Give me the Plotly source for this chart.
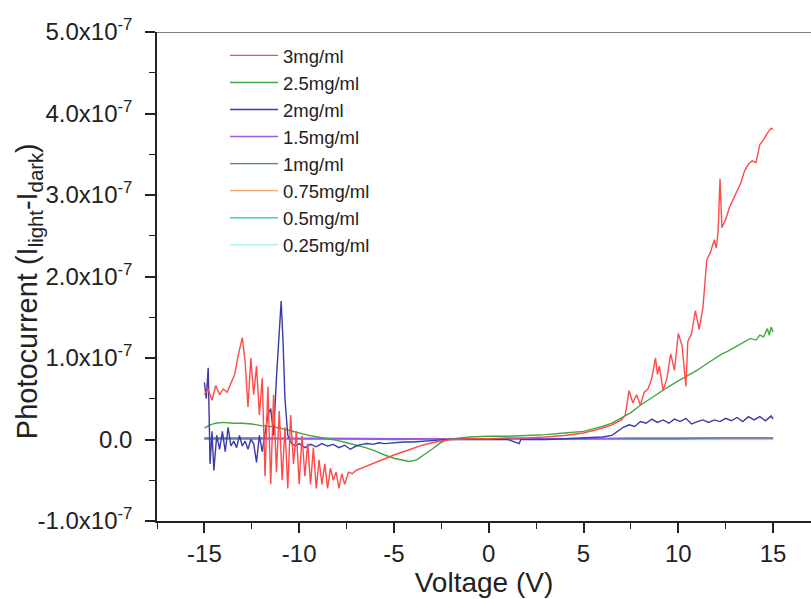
import plotly.graph_objects as go

# ---------------- data (current in units of 1e-7 A) ----------------
v_3 = [-15.0, -14.8, -14.6, -14.4, -14.2, -14.0, -13.8, -13.6, -13.4, -13.2, -13.0,
       -12.85, -12.7, -12.55, -12.4, -12.25, -12.1, -11.95, -11.8, -11.65, -11.5,
       -11.35, -11.2, -11.05, -10.9, -10.75, -10.6, -10.45, -10.3, -10.15, -10.0,
       -9.85, -9.7, -9.55, -9.4, -9.25, -9.1, -8.95, -8.8, -8.65, -8.5, -8.35, -8.2,
       -8.05, -7.9, -7.75, -7.6, -7.4, -7.2, -7.0, -6.5, -6.0, -5.5, -5.0, -4.5, -4.0,
       -3.5, -3.0, -2.5, -2.0, -1.0, 0.0, 1.0, 2.0, 3.0, 4.0, 5.0, 5.5, 6.0, 6.5, 7.0,
       7.2, 7.4, 7.6, 7.8, 8.0, 8.2, 8.4, 8.6, 8.8, 8.9, 9.0, 9.2, 9.4, 9.6, 9.8, 10.0,
       10.2, 10.4, 10.5, 10.7, 10.9, 11.1, 11.3, 11.5, 11.7, 11.9, 12.0, 12.1, 12.2,
       12.3, 12.5, 12.7, 12.9, 13.1, 13.3, 13.5, 13.7, 13.9, 14.1, 14.3, 14.5, 14.7,
       14.9, 15.0]
i_3 = [0.55, 0.62, 0.48, 0.66, 0.55, 0.62, 0.58, 0.70, 0.80, 1.05, 1.25,
       0.95, 0.40, 1.00, 0.55, 0.90, 0.30, 0.75, -0.45, 0.65, -0.55,
       0.55, -0.40, 0.35, -0.50, 0.15, -0.60, 0.30, -0.30, 0.10, -0.55,
       0.05, -0.45, -0.05, -0.55, -0.10, -0.60, -0.25, -0.55, -0.30, -0.60, -0.35, -0.50,
       -0.40, -0.60, -0.42, -0.55, -0.40, -0.42, -0.38, -0.33, -0.28, -0.24, -0.19, -0.15, -0.11,
       -0.07, -0.04, -0.02, 0.00, 0.01, 0.01, 0.02, 0.02, 0.03, 0.05, 0.08, 0.11, 0.14, 0.18, 0.24,
       0.30, 0.60, 0.45, 0.55, 0.42, 0.58, 0.62, 0.75, 1.00, 0.80, 0.90, 0.60, 0.75, 1.05, 0.85, 1.30,
       1.15, 0.65, 1.20, 1.30, 1.58, 1.35, 1.62, 2.20, 2.30, 2.45, 2.35, 2.55, 3.20,
       2.60, 2.70, 2.85, 2.95, 3.05, 3.15, 3.30, 3.38, 3.42, 3.40, 3.62, 3.68, 3.76,
       3.82, 3.80]

v_25 = [-15.0, -14.7, -14.4, -14.0, -13.5, -13.0, -12.5, -12.0, -11.5, -11.0, -10.5,
        -10.0, -9.5, -9.0, -8.5, -8.0, -7.5, -7.0, -6.5, -6.0, -5.5, -5.0, -4.5, -4.2,
        -3.8, -3.4, -3.0, -2.6, -2.2, -1.5, -1.0, 0.0, 1.0, 2.0, 3.0, 4.0, 5.0, 5.5, 6.0,
        6.5, 7.0, 7.5, 8.0, 8.5, 9.0, 9.5, 10.0, 10.5, 11.0, 11.5, 12.0, 12.3, 12.6, 12.9,
        13.2, 13.5, 13.8, 14.1, 14.3, 14.5, 14.7, 14.8, 14.9, 15.0]
i_25 = [0.14, 0.18, 0.20, 0.21, 0.20, 0.20, 0.19, 0.17, 0.16, 0.14, 0.11,
        0.08, 0.05, 0.03, 0.01, -0.01, -0.04, -0.07, -0.10, -0.14, -0.19, -0.23, -0.26, -0.27,
        -0.25, -0.19, -0.12, -0.05, 0.00, 0.02, 0.03, 0.04, 0.04, 0.05, 0.06, 0.08, 0.10, 0.13, 0.16,
        0.20, 0.26, 0.33, 0.42, 0.50, 0.57, 0.65, 0.72, 0.78, 0.85, 0.93, 1.00, 1.05, 1.08, 1.12,
        1.16, 1.20, 1.24, 1.22, 1.28, 1.26, 1.36, 1.28, 1.38, 1.32]

v_2 = [-15.0, -14.9, -14.8, -14.7, -14.6, -14.5, -14.35, -14.2, -14.05, -13.9, -13.75,
       -13.6, -13.45, -13.3, -13.15, -13.0, -12.85, -12.7, -12.55, -12.4, -12.25, -12.1,
       -11.95, -11.8, -11.65, -11.5, -11.35, -11.2, -11.05, -10.95, -10.85, -10.75, -10.6,
       -10.4, -10.2, -10.0, -9.7, -9.4, -9.1, -8.8, -8.5, -8.2, -7.9, -7.6, -7.3, -7.0,
       -6.7, -6.4, -6.1, -5.8, -5.5, -5.0, -4.5, -4.0, -3.5, -3.0, -2.5, -2.0, -1.0, 0.0,
       1.0, 1.6, 1.7, 2.0, 3.0, 4.0, 5.0, 5.5, 6.0, 6.5, 6.8, 7.1, 7.4, 7.7, 8.0, 8.3, 8.6,
       8.9, 9.2, 9.5, 9.8, 10.1, 10.4, 10.7, 11.0, 11.3, 11.6, 11.9, 12.2, 12.5, 12.8, 13.1,
       13.4, 13.7, 14.0, 14.3, 14.6, 14.9, 15.0]
i_2 = [0.70, 0.50, 0.88, -0.30, 0.10, -0.38, 0.05, -0.12, 0.10, -0.15, 0.15,
       -0.08, -0.02, -0.10, 0.05, -0.08, -0.02, -0.12, 0.00, -0.05, -0.28, 0.05,
       -0.15, 0.10, 0.30, 0.38, 0.05, 0.75, 1.30, 1.70, 1.20, 0.50, 0.05,
       -0.05, -0.08, -0.05, -0.10, -0.06, -0.09, -0.05, -0.08, -0.06, -0.10, -0.07, -0.12, -0.08,
       -0.06, -0.05, -0.06, -0.04, -0.05, -0.04, -0.03, -0.03, -0.02, -0.01, -0.005, 0.00, 0.00, 0.00,
       0.00, -0.05, 0.00, 0.00, 0.00, 0.01, 0.02, 0.02, 0.03, 0.05, 0.10, 0.15, 0.18, 0.16, 0.22, 0.20, 0.25,
       0.21, 0.24, 0.20, 0.25, 0.22, 0.26, 0.19, 0.22, 0.24, 0.21, 0.24, 0.22, 0.26, 0.23, 0.27,
       0.22, 0.28, 0.24, 0.28, 0.23, 0.29, 0.25]

v_low = [-15.0, -12.5, -10.0, -7.5, -5.0, -2.5, 0.0, 2.5, 5.0, 7.5, 10.0, 12.5, 15.0]
i_15 = [0.02, 0.02, 0.01, 0.01, 0.01, 0.01, 0.01, 0.01, 0.01, 0.02, 0.02, 0.02, 0.02]
i_1 = [0.01, 0.01, 0.01, 0.01, 0.00, 0.01, 0.01, 0.01, 0.01, 0.01, 0.01, 0.02, 0.02]
i_075 = [0.02, 0.02, 0.02, 0.02, 0.01, 0.01, 0.01, 0.01, 0.01, 0.01, 0.01, 0.01, 0.01]
i_05 = [0.01, 0.01, 0.02, 0.01, 0.01, 0.01, 0.01, 0.01, 0.01, 0.01, 0.01, 0.01, 0.01]
i_025 = [0.00, 0.00, 0.00, 0.00, 0.00, 0.00, 0.00, 0.00, 0.00, 0.00, 0.00, 0.00, 0.00]

names = ["3mg/ml", "2.5mg/ml", "2mg/ml", "1.5mg/ml", "1mg/ml", "0.75mg/ml", "0.5mg/ml", "0.25mg/ml"]
series_x = [v_3, v_25, v_2, v_low, v_low, v_low, v_low, v_low]
series_y = [i_3, i_25, i_2, i_15, i_1, i_075, i_05, i_025]
colors = ["#ff4a4a", "#3fa83f", "#3a3aa8", "#a25ae6", "#3a8f8f", "#f5a66a", "#28d8e6", "#a8f2f2"]

y_ticks = [-1e-7, 0, 1e-7, 2e-7, 3e-7, 4e-7, 5e-7]
y_ticktext = ["-1.0x10<sup>-7</sup>", "0.0", "1.0x10<sup>-7</sup>", "2.0x10<sup>-7</sup>",
              "3.0x10<sup>-7</sup>", "4.0x10<sup>-7</sup>", "5.0x10<sup>-7</sup>"]
x_ticks = [-15, -10, -5, 0, 5, 10, 15]
x_ticktext = ["-15", "-10", "-5", "0", "5", "10", "15"]

fig = go.Figure()
# draw low-concentration traces first so big ones sit on top
order = [7, 6, 5, 4, 3, 1, 2, 0]
for k in order:
    fig.add_trace(go.Scatter(
        x=series_x[k], y=[v * 1e-7 for v in series_y[k]], mode="lines",
        name=names[k], line=dict(color=colors[k], width=1.4),
        legendrank=k + 1,
    ))

font = "Liberation Sans, Arial, sans-serif"
fig.update_layout(
    width=811, height=599,
    margin=dict(l=157, r=0, t=32, b=78),
    paper_bgcolor="white", plot_bgcolor="white",
    font=dict(family=font, color="#222"),
    showlegend=True,
    legend=dict(x=0.104, y=0.99, xanchor="left", yanchor="top",
                bgcolor="rgba(0,0,0,0)", font=dict(size=18.5, family=font, color="#222"),
                traceorder="normal", itemwidth=48),
    xaxis=dict(range=[-17.5, 17.0], tickvals=x_ticks, ticktext=x_ticktext, ticks="outside", ticklen=10,
               tickwidth=1.5, tickcolor="#222", showline=True, linecolor="#222", linewidth=1.5,
               showgrid=False, zeroline=False, tickfont=dict(size=24), automargin=False,
               minor=dict(dtick=2.5, tick0=0, ticks="outside", ticklen=6, tickcolor="#222", tickwidth=1.2),
               title=dict(text="Voltage (V)", font=dict(size=28), standoff=2)),
    yaxis=dict(range=[-1e-7, 5e-7], tickvals=y_ticks, ticktext=y_ticktext, ticks="outside",
               ticklen=10, tickwidth=1.5, tickcolor="#222", showline=True, linecolor="#222",
               linewidth=1.5, showgrid=False, zeroline=False, tickfont=dict(size=24), automargin=False,
               ticklabelstandoff=8,
               minor=dict(dtick=0.5e-7, tick0=0, ticks="outside", ticklen=6, tickcolor="#222", tickwidth=1.2)),
)
# grey frame line along the top of the plot area
fig.add_shape(type="line", xref="paper", yref="y", x0=0, x1=1, y0=y_ticks[-1], y1=y_ticks[-1],
              layer="above", line=dict(color="#808080", width=2))
fig.add_annotation(text="Photocurrent (I<sub>light</sub>-I<sub>dark</sub>)", xref="paper", yref="paper",
                   x=0, y=0.47, xshift=-128, textangle=-90, showarrow=False,
                   font=dict(size=29, family=font, color="#222"), xanchor="center", yanchor="middle")

fig.write_html("out.html", config={"displayModeBar": False},
               post_script="document.body.style.margin='0';document.body.style.overflow='hidden';")
